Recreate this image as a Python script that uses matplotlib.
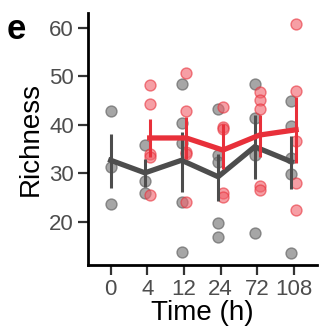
import matplotlib.pyplot as plt
import numpy as np

plt.rcParams['font.family'] = ['Liberation Sans', 'DejaVu Sans']

times = ['0', '4', '12', '24', '72', '108']

# raw points
grey_pts = [
    [42.9, 31.3, 23.6],
    [35.8, 28.5, 26.0],
    [48.5, 40.3, 36.3, 24.0, 13.7],
    [43.2, 33.7, 32.4, 19.8, 16.8],
    [48.5, 41.5, 33.7, 17.7],
    [45.0, 39.7, 33.1, 29.8, 13.5],
]
red_pts = [
    [],
    [48.3, 44.4, 34.0, 33.4, 25.6],
    [50.8, 42.8, 34.4, 33.9, 24.0],
    [43.7, 39.6, 39.2, 26.0, 25.2],
    [46.8, 45.2, 43.2, 27.4, 26.5],
    [60.8, 47.1, 36.7, 27.9, 22.5],
]

# means and error bar ends
grey_mean = [32.7, 30.1, 32.7, 29.3, 35.5, 32.4]
grey_lo = [26.9, 27.1, 26.2, 24.3, 28.8, 26.7]
grey_hi = [38.2, 32.9, 38.6, 34.0, 42.0, 37.7]
red_mean = [37.3, 37.3, 34.8, 37.9, 39.0]
red_lo = [33.4, 32.9, 30.8, 33.4, 32.2]
red_hi = [41.3, 41.6, 40.1, 42.0, 45.8]

GREY = '#808080'
DARK = '#4d4d4d'
RED = '#e8303a'

fig = plt.figure(figsize=(3.2, 3.34), dpi=100)
ax = fig.add_axes([0.275, 0.207, 0.715, 0.754])

x = np.arange(len(times))
dodge = 0.065
gx = x.astype(float)
gx[1:] -= dodge
rx = x[1:] + dodge

for xi, pts in zip(gx, grey_pts):
    ax.scatter([xi] * len(pts), pts, s=62, color=GREY, alpha=0.7,
               edgecolors='#666666', linewidths=1, zorder=2)
for xi, pts in zip(x + dodge, red_pts):
    if pts:
        ax.scatter([xi] * len(pts), pts, s=62, color='#f0606a', alpha=0.6,
                   edgecolors=RED, linewidths=1, zorder=2)

ax.vlines(gx, grey_lo, grey_hi, color=DARK, lw=2.2, zorder=3)
ax.plot(gx, grey_mean, color=DARK, lw=3.8, zorder=4, solid_joinstyle='miter')
ax.vlines(rx, red_lo, red_hi, color=RED, lw=2.2, zorder=5)
ax.plot(rx, red_mean, color=RED, lw=3.8, zorder=6, solid_joinstyle='miter')

ax.set_xlim(0.38 - 1, 6.63 - 1)
ax.set_ylim(11.1, 63.1)
ax.set_xticks(x)
ax.set_xticklabels(times)
ax.set_yticks([20, 30, 40, 50, 60])

for s in ['top', 'right']:
    ax.spines[s].set_visible(False)
for s in ['left', 'bottom']:
    ax.spines[s].set_linewidth(2)
    ax.spines[s].set_color('black')
ax.tick_params(length=7, width=1.6, color='#333333', labelsize=16,
               labelcolor=DARK, pad=3)

ax.set_ylabel('Richness', fontsize=20, labelpad=4)
ax.set_xlabel('Time (h)', fontsize=20, labelpad=0)

fig.text(0.05, 0.912, 'e', fontsize=25, fontweight='bold', ha='center', va='center')

fig.savefig('out.png', dpi=100)
